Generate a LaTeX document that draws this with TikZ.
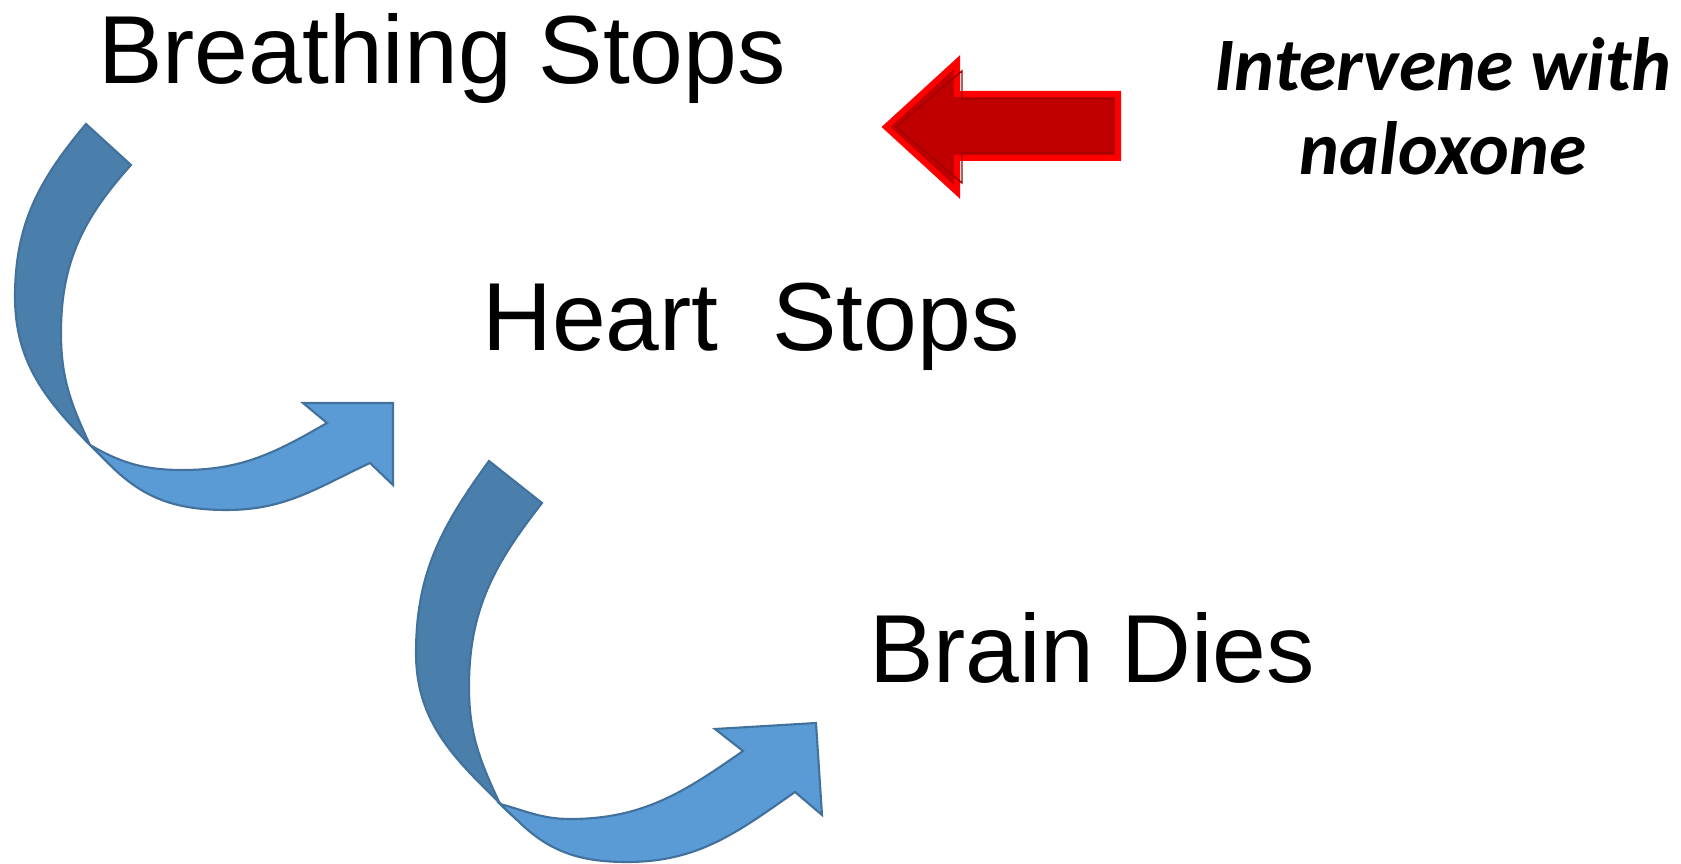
\documentclass[tikz,border=0pt]{standalone}
\usepackage{fontspec}
\setmainfont{Liberation Sans}
\newfontfamily\calibri{Carlito}

\definecolor{backblue}{HTML}{4A7EAB}
\definecolor{frontblue}{HTML}{5B9BD5}
\definecolor{edgeblue}{HTML}{41719C}
\definecolor{arrowred}{HTML}{C00000}
\definecolor{darkline}{HTML}{A00000}

\begin{document}
\begin{tikzpicture}[scale=0.5,
  backside/.style={fill=backblue,draw=edgeblue,line width=0.6pt},
  frontside/.style={fill=frontblue,draw=edgeblue,line width=0.6pt},
  stagetext/.style={font=\fontsize{27.5}{33}\selectfont,anchor=base,inner sep=0pt}]
\useasboundingbox (0,0) rectangle (33.62,17.28);

% first curved arrow
\draw[backside] (1.72,14.80) to[out=230,in=90] (0.30,11.34) to[out=-90,in=135] (2.20,7.98)
  -- (1.80,8.38) to[out=115,in=-90] (1.22,10.62) to[out=90,in=228] (2.62,13.98) -- cycle;
\draw[frontside] (1.80,8.38) to[out=-30,in=180] (3.66,7.88) to[out=0,in=210] (6.54,8.82)
  -- (6.06,9.22) -- (7.86,9.22) -- (7.86,7.58) -- (7.40,8.02)
  to[out=205,in=0] (4.54,7.08) to[out=180,in=-45] (2.20,7.98) -- cycle;

% second curved arrow
\draw[backside] (9.78,8.06) to[out=234,in=90] (8.32,4.22) to[out=-90,in=135] (10.34,0.88)
  -- (10.00,1.20) to[out=115,in=-90] (9.38,3.54) to[out=90,in=232] (10.84,7.22) -- cycle;
\draw[frontside] (10.00,1.20) to[out=-15,in=180] (11.40,0.90) to[out=0,in=215] (14.86,2.26)
  -- (14.30,2.70) -- (16.32,2.82) -- (16.44,0.98) -- (15.90,1.44)
  to[out=215,in=0] (12.54,0.04) to[out=180,in=-45] (10.34,0.88) -- cycle;

% red arrow
\filldraw[fill=arrowred,draw=red,line width=1.7pt,line join=miter]
  (17.72,14.74) -- (19.14,16.04) -- (19.14,15.40) -- (22.36,15.40)
  -- (22.36,14.12) -- (19.14,14.12) -- (19.14,13.44) -- cycle;
\draw[darkline,line width=0.4pt]
  (17.92,14.74) -- (19.24,15.86) -- (19.24,15.30) -- (22.26,15.30)
  -- (22.26,14.22) -- (19.24,14.22) -- (19.24,13.62) -- cycle;

\node[stagetext] (breathing) at (8.84,15.60) {Breathing Stops};
\node[stagetext] (heart) at (15.02,10.26) {Heart\ \ Stops};
\node[stagetext] (brain) at (21.84,3.62) {Brain Dies};

\node[anchor=base,align=center,inner sep=0pt,
  font=\calibri\bfseries\itshape\fontsize{21.5}{23.9}\selectfont] (intervene) at (28.86,13.78)
  {Intervene with\\naloxone};

\end{tikzpicture}
\end{document}
